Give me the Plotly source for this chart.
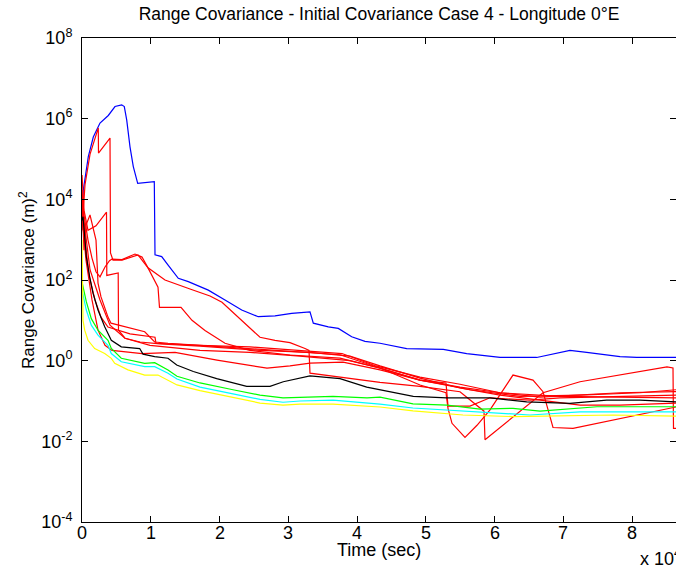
import plotly.graph_objects as go

# ---- data (time in seconds, covariance in m^2) ----
t_blue = [0, 189, 916, 1644, 2618, 3825, 4800, 5775, 6153, 6502, 6982, 7462, 8102, 10516, 10618,
          11592, 12553, 14007, 15461, 18370, 20800, 23229, 25644, 28072, 30501, 33163, 33643, 35825,
          37280, 39228, 41163, 43344, 47229, 52553, 55957, 60812, 66138, 68553, 70980, 73409, 78262,
          80684, 86400]
v_blue = [3e3, 1.7e4, 1.15e5, 3.5e5, 7.8e5, 1.2e6, 2.0e6, 2.2e6, 2.0e6, 9.3e5, 2.0e5, 6.5e4, 2.5e4,
          2.75e4, 4.2e2, 3.8e2, 2.3e2, 1.1e2, 91, 56, 32, 18, 12.3, 12.9, 14.8, 16.2, 8.5, 6.9, 6.3,
          3.9, 3.0, 2.7, 2.0, 1.9, 1.5, 1.2, 1.2, 1.5, 1.8, 1.6, 1.26, 1.2, 1.2]

t_red1 = [0, 436, 1164, 1891, 2371, 2400, 4073, 4145, 4509, 5818, 8145, 9600, 11054, 11272, 14400,
          16000, 17890, 20800, 24436, 30254, 37527, 43345, 49163, 54981, 60800, 69527, 78254, 86400]
v_red1 = [1.7e3, 2.3e4, 1.3e5, 3.3e5, 5.9e5, 1.4e5, 3.3e5, 4.7e2, 3.1e2, 3.1e2, 4.2e2, 2.0e2, 66, 21,
          21, 10, 5.6, 2.7, 1.8, 1.38, 1.16, 0.65, 0.33, 0.22, 0.16, 0.13, 0.125, 0.12]

t_red2 = [0, 291, 873, 1455, 2036, 2618, 3345, 4000, 4364, 5818, 7709, 8727, 9600, 12073, 15709,
          18618, 20363, 22981, 25890, 28072, 30254, 32436, 33018, 33163, 37527, 43345, 49163, 54981,
          58472, 58618, 67054, 72436, 85090, 85963, 86036, 86400]
v_red2 = [1.7e4, 4.1e3, 9.8e2, 3.5e2, 1.6e2, 1.2e2, 2.1e2, 3.0e2, 3.3e2, 3.2e2, 4.4e2, 3.7e2, 2.0e2,
          1.0e2, 60, 40, 28, 11, 3.8, 3.2, 2.8, 2.0, 1.8, 0.49, 0.39, 0.29, 0.23, 0.17, 0.056, 0.011,
          0.16, 0.30, 0.70, 0.66, 0.021, 0.021]

t_red3 = [0, 291, 873, 2036, 3564, 3607, 5265, 5309, 6254, 8436, 11345, 17163, 25890, 33163, 38981,
          43345, 49163, 54981, 60800, 66618, 72436, 78254, 86400]
v_red3 = [4.0e4, 5.4e3, 1.7e3, 2.2e3, 4.8e3, 1.3e2, 1.5e2, 5.7, 3.6, 2.9, 2.6, 2.3, 1.8, 1.6, 1.3,
          0.74, 0.37, 0.21, 0.14, 0.105, 0.079, 0.079, 0.089]

t_red4 = [0, 291, 582, 1164, 2036, 2327, 2764, 3782, 4218, 9120, 10574, 12509, 17163, 24436, 31709,
          37527, 43345, 49163, 56436, 63709, 72436, 81163, 86400]
v_red4 = [9.5e3, 5.5e2, 2.3e3, 4.1e3, 9.8e2, 84, 38, 12, 8.5, 5.2, 2.9, 2.7, 2.4, 2.0, 1.6, 1.4, 0.66,
          0.33, 0.19, 0.13, 0.14, 0.16, 0.19]

t_red5 = [0, 582, 1455, 2327, 3345, 4364, 8727, 13527, 19636, 26909, 30254, 33163, 37963, 43345,
          49163, 52945, 53236, 56436, 59345, 65163, 69527, 78254, 86400]
v_red5 = [4.1e3, 3.1e2, 32, 5.7, 2.4, 1.8, 1.5, 1.6, 1.03, 0.65, 0.74, 0.87, 0.92, 0.59, 0.33, 0.28,
          0.075, 0.075, 0.12, 0.105, 0.12, 0.13, 0.14]

t_red6 = [0, 436, 1018, 1891, 2764, 3782, 6982, 10618, 10763, 17163, 24436, 32872, 37818, 42763,
          49163, 54981, 60800, 66618, 72436, 78254, 86400]
v_red6 = [1.3e4, 9.8e2, 1.3e2, 32, 12, 6.8, 4.6, 3.8, 2.7, 2.4, 2.2, 1.7, 1.5, 0.74, 0.39, 0.26,
          0.16, 0.125, 0.14, 0.16, 0.17]

t_red7 = [0, 582, 1164, 2618, 4073, 6254, 9891, 17163, 24436, 31709, 38981, 43345, 49163, 52945,
          53236, 53818, 55709, 57454, 59345, 62690, 65600, 67054, 68509, 71418, 79272, 86400]
v_red7 = [7.2e3, 1.3e3, 1.8e2, 32, 7.6, 3.6, 2.4, 1.8, 1.6, 1.3, 1.0, 0.66, 0.25, 0.16, 0.066, 0.028,
          0.0125, 0.025, 0.060, 0.44, 0.33, 0.17, 0.022, 0.021, 0.040, 0.071]

t_black = [0, 145, 393, 625, 1120, 1600, 2327, 3302, 4262, 5716, 8393, 8873, 10574, 12509, 13774,
           16189, 19592, 23956, 27345, 29280, 33163, 35097, 37527, 41410, 46254, 48188, 53046, 59345,
           64683, 70980, 76318, 81162, 86400]
v_black = [3.0e3, 3.7e3, 1.2e3, 3.8e2, 1.2e2, 47, 18, 6.9, 3.2, 2.2, 2.0, 1.45, 1.26, 1.15, 0.78,
           0.54, 0.36, 0.23, 0.23, 0.30, 0.42, 0.39, 0.36, 0.22, 0.155, 0.13, 0.12, 0.12, 0.095,
           0.087, 0.105, 0.105, 0.095]

t_green = [0, 625, 1353, 2327, 3782, 4262, 5716, 9120, 10574, 12509, 13818, 17163, 21963, 25890,
           29236, 31709, 36509, 41454, 43345, 48145, 53091, 57890, 62690, 66618, 74908, 86400]
v_green = [90, 29, 11, 5.7, 3.2, 2.0, 1.15, 0.86, 0.89, 0.59, 0.41, 0.28, 0.19, 0.14, 0.12, 0.125,
           0.13, 0.12, 0.125, 0.085, 0.079, 0.063, 0.066, 0.056, 0.072, 0.072]

t_cyan = [0, 625, 1353, 2327, 3782, 4262, 5716, 9120, 10574, 12509, 13818, 17163, 21963, 25890,
          29236, 31709, 36509, 41454, 43345, 48145, 57890, 65163, 72436, 86400]
v_cyan = [56, 18, 7.6, 4.3, 2.4, 1.5, 0.94, 0.71, 0.71, 0.49, 0.35, 0.22, 0.15, 0.11, 0.093, 0.10,
          0.105, 0.089, 0.084, 0.067, 0.053, 0.045, 0.054, 0.054]

t_yellow = [0, 145, 393, 873, 1847, 3302, 4262, 4756, 6691, 9120, 11054, 12509, 13818, 17163, 21963,
            25890, 29236, 31709, 36509, 41454, 43345, 48145, 55417, 62690, 68509, 77236, 86400]
v_yellow = [1.0e3, 10, 5.7, 3.2, 2.0, 1.5, 1.14, 0.86, 0.59, 0.44, 0.44, 0.33, 0.25, 0.18, 0.12,
            0.089, 0.079, 0.084, 0.084, 0.075, 0.071, 0.057, 0.045, 0.041, 0.042, 0.045, 0.042]

x_tick_vals = [0, 10000, 20000, 30000, 40000, 50000, 60000, 70000, 80000]
x_tick_text = ["0", "1", "2", "3", "4", "5", "6", "7", "8"]
y_tick_vals = [1e-4, 1e-2, 1e0, 1e2, 1e4, 1e6, 1e8]
y_tick_text = ["10<sup>-4</sup>", "10<sup>-2</sup>", "10<sup>0</sup>", "10<sup>2</sup>",
               "10<sup>4</sup>", "10<sup>6</sup>", "10<sup>8</sup>"]

series = [
    (t_blue, v_blue, "#0000FF"),
    (t_red1, v_red1, "#FF0000"),
    (t_red2, v_red2, "#FF0000"),
    (t_red3, v_red3, "#FF0000"),
    (t_red4, v_red4, "#FF0000"),
    (t_red5, v_red5, "#FF0000"),
    (t_red6, v_red6, "#FF0000"),
    (t_red7, v_red7, "#FF0000"),
    (t_black, v_black, "#000000"),
    (t_green, v_green, "#00FF00"),
    (t_cyan, v_cyan, "#00FFFF"),
    (t_yellow, v_yellow, "#FFFF00"),
]

fig = go.Figure()
for t, v, c in series:
    fig.add_trace(go.Scatter(x=t, y=v, mode="lines", line=dict(color=c, width=1.2),
                             showlegend=False, hoverinfo="skip"))

FONT = "Liberation Sans, Arial, sans-serif"

# x tick labels placed just under the axis (MATLAB style, close to the axis line)
annotations = [
    dict(text=lab, xref="x", yref="paper", x=val, y=-0.0227, xanchor="center",
         yanchor="middle", showarrow=False, font=dict(size=18))
    for val, lab in zip(x_tick_vals, x_tick_text)
]
annotations += [
    dict(text="Time (sec)", xref="paper", yref="paper", x=0.5, y=-0.058,
         xanchor="center", yanchor="middle", showarrow=False, font=dict(size=18)),
    dict(text="x 10<sup>4</sup>", xref="paper", yref="paper", x=(638 - 82) / 594, y=-0.074,
         xanchor="left", yanchor="middle", showarrow=False, font=dict(size=18)),
    dict(text="Range Covariance (m)<sup>2</sup>", xref="paper", yref="paper",
         x=(27 - 82) / 594, y=0.5, xanchor="center", yanchor="middle", textangle=-90,
         showarrow=False, font=dict(size=17)),
]

fig.update_layout(
    width=676, height=565,
    margin=dict(l=82, r=0, t=38, b=43),
    paper_bgcolor="white", plot_bgcolor="white",
    font=dict(family=FONT, size=18, color="black"),
    title=dict(text="Range Covariance - Initial Covariance Case 4 - Longitude 0°E",
               x=0.5, xref="paper", xanchor="center",
               y=1 - 14 / 565, yref="container", yanchor="middle",
               font=dict(family=FONT, size=17.5, color="black")),
    xaxis=dict(range=[0, 86400], tickvals=x_tick_vals, showticklabels=False,
               ticks="inside", ticklen=6, tickcolor="black", showline=True, linecolor="black",
               linewidth=1, mirror="ticks", showgrid=False, zeroline=False),
    yaxis=dict(type="log", range=[-4, 8], tickvals=y_tick_vals, ticktext=y_tick_text,
               ticks="inside", ticklen=6, tickcolor="black", showline=True, linecolor="black",
               linewidth=1, mirror="ticks", showgrid=False, zeroline=False,
               ticklabelstandoff=5, tickfont=dict(size=18)),
    annotations=annotations,
)

fig.write_html("out.html")
